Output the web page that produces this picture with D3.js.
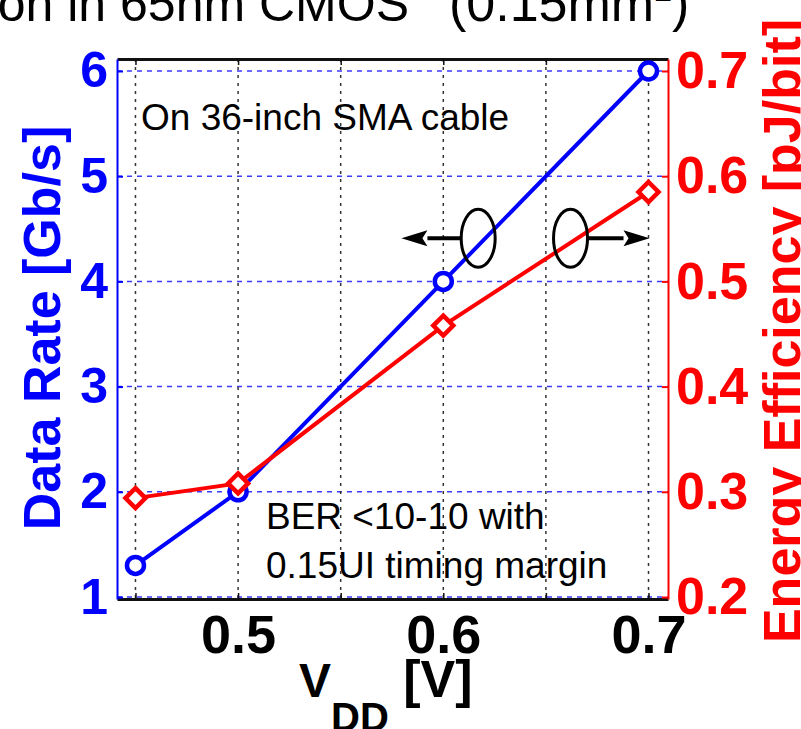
<!DOCTYPE html>
<html>
<head>
<meta charset="utf-8">
<script src="https://cdn.jsdelivr.net/npm/d3@7"></script>
<style>
  body { margin: 0; background: #fff; }
  svg { display: block; font-family: "Liberation Sans", Arial, Helvetica, sans-serif; }
</style>
</head>
<body>
<div id="chart"></div>
<script>
// values
const vdd = [0.45, 0.5, 0.6, 0.7];
const dataRate = [1.3, 2.0, 4.0, 6.0];          // Gb/s, left axis
const energy = [0.294, 0.308, 0.458, 0.585];   // pJ/bit, right axis
const xGrid = [0.45, 0.5, 0.55, 0.6, 0.65, 0.7];
const xLabels = [0.5, 0.6, 0.7];
const leftTicks = [1, 2, 3, 4, 5, 6];
const rightTicks = [0.2, 0.3, 0.4, 0.5, 0.6, 0.7];

const width = 801, height = 729;
const box = {left: 117, right: 668, top: 59, bottom: 599};

const svg = d3.select("#chart")
  .append("svg")
  .attr("width", width)
  .attr("height", height);

const x = d3.scaleLinear().domain([0.441, 0.7095]).range([box.left, box.right]);
const yL = d3.scaleLinear().domain([0.981, 6.114]).range([box.bottom, box.top]);
const yR = d3.scaleLinear().domain([0.1981, 0.7114]).range([box.bottom, box.top]);

// title, cut off at the top of the frame
svg.append("text")
    .attr("x", 409)
    .attr("y", 21)
    .attr("text-anchor", "end")
    .style("font-size", "50px")
    .text("tion in 65nm CMOS");

const title2 = svg.append("text")
    .attr("x", 449)
    .attr("y", 21)
    .style("font-size", "52px");
title2.append("tspan").text("(0.15mm");
title2.append("tspan").attr("dy", -20).style("font-size", "32px").text("2");
title2.append("tspan").attr("dy", 20).text(")");

// grid
svg.append("g")
  .selectAll("line")
  .data(leftTicks)
  .enter().append("line")
    .attr("x1", box.left).attr("x2", box.right)
    .attr("y1", d => yL(d)).attr("y2", d => yL(d))
    .attr("stroke", "#3a3aff")
    .attr("stroke-width", 1.5)
    .attr("stroke-dasharray", "5,5");

svg.append("g")
  .selectAll("line")
  .data(xGrid)
  .enter().append("line")
    .attr("x1", d => x(d)).attr("x2", d => x(d))
    .attr("y1", box.top).attr("y2", box.bottom)
    .attr("stroke", "#333")
    .attr("stroke-width", 1.5)
    .attr("stroke-dasharray", "3,5");

// axes
const fmt = d3.format(".1f");

const topAxis = svg.append("g")
    .attr("transform", "translate(0," + box.top + ")")
    .call(d3.axisTop(x).tickValues(xGrid).tickSize(-6).tickSizeOuter(0).tickFormat(""));

const bottomAxis = svg.append("g")
    .attr("transform", "translate(0," + box.bottom + ")")
    .call(d3.axisBottom(x).tickValues(xGrid).tickSize(-6).tickSizeOuter(0).tickPadding(16)
      .tickFormat(d => xLabels.indexOf(d) >= 0 ? fmt(d) : ""));

[topAxis, bottomAxis].forEach(g => {
  g.select(".domain").attr("stroke", "#111").attr("stroke-width", 3);
  g.selectAll(".tick line").attr("stroke", "#111").attr("stroke-width", 1.5);
});
bottomAxis.attr("font-family", null).attr("font-size", null);
bottomAxis.selectAll("text")
    .attr("fill", "#000")
    .style("font-size", "54px")
    .style("font-weight", "bold");

const leftAxis = svg.append("g")
    .attr("transform", "translate(" + box.left + ",0)")
    .call(d3.axisLeft(yL).tickValues(leftTicks).tickSize(-6).tickSizeOuter(0).tickPadding(9).tickFormat(d3.format("d")));
leftAxis.attr("font-family", null).attr("font-size", null);
leftAxis.select(".domain").attr("stroke", "#0000ff").attr("stroke-width", 2);
leftAxis.selectAll(".tick line").attr("stroke", "#0000ff").attr("stroke-width", 2);
leftAxis.selectAll("text")
    .attr("fill", "#0000ff")
    .style("font-size", "50px")
    .style("font-weight", "bold");

const rightAxis = svg.append("g")
    .attr("transform", "translate(" + box.right + ",0)")
    .call(d3.axisRight(yR).tickValues(rightTicks).tickSize(-6).tickSizeOuter(0).tickPadding(8).tickFormat(fmt));
rightAxis.attr("font-family", null).attr("font-size", null);
rightAxis.select(".domain").attr("stroke", "#ff0000").attr("stroke-width", 2);
rightAxis.selectAll(".tick line").attr("stroke", "#ff0000").attr("stroke-width", 2);
rightAxis.selectAll("text")
    .attr("fill", "#ff0000")
    .style("font-size", "52px")
    .style("font-weight", "bold");

// axis titles
svg.append("text")
    .attr("transform", "translate(60,328) rotate(-90)")
    .attr("text-anchor", "middle")
    .attr("fill", "#0000ff")
    .style("font-size", "52px")
    .style("font-weight", "bold")
    .text("Data Rate [Gb/s]");

svg.append("text")
    .attr("transform", "translate(800,331) rotate(-90)")
    .attr("text-anchor", "middle")
    .attr("fill", "#ff0000")
    .style("font-size", "52px")
    .style("font-weight", "bold")
    .text("Energy Efficiency [pJ/bit]");

const xl = svg.append("text")
    .attr("x", 299)
    .attr("y", 697)
    .style("font-size", "48px")
    .style("font-weight", "bold")
    .style("white-space", "pre");
xl.append("tspan").text("V");
xl.append("tspan").attr("dy", 34).style("font-size", "40px").text("DD");
xl.append("tspan").attr("dy", -34).style("font-size", "52px").text(" [V]");

// series
const lineL = d3.line().x((d, i) => x(vdd[i])).y(d => yL(d));
const lineR = d3.line().x((d, i) => x(vdd[i])).y(d => yR(d));

svg.append("path")
    .datum(dataRate)
    .attr("d", lineL)
    .attr("fill", "none")
    .attr("stroke", "#0000ff")
    .attr("stroke-width", 4);

svg.append("g")
  .selectAll("circle")
  .data(dataRate)
  .enter().append("circle")
    .attr("cx", (d, i) => x(vdd[i]))
    .attr("cy", d => yL(d))
    .attr("r", 8.5)
    .attr("fill", "#fff")
    .attr("stroke", "#0000ff")
    .attr("stroke-width", 4.5);

svg.append("path")
    .datum(energy)
    .attr("d", lineR)
    .attr("fill", "none")
    .attr("stroke", "#ff0000")
    .attr("stroke-width", 4);

svg.append("g")
  .selectAll("path")
  .data(energy)
  .enter().append("path")
    .attr("transform", (d, i) => "translate(" + x(vdd[i]) + "," + yR(d) + ")")
    .attr("d", "M0,-10L10,0L0,10L-10,0Z")
    .attr("fill", "#fff")
    .attr("stroke", "#ff0000")
    .attr("stroke-width", 4.5);

// annotations
svg.append("text")
    .attr("x", 141)
    .attr("y", 130)
    .style("font-size", "37px")
    .text("On 36-inch SMA cable");

svg.append("text")
    .attr("x", 266)
    .attr("y", 529)
    .style("font-size", "37px")
    .text("BER <10-10 with");

svg.append("text")
    .attr("x", 266)
    .attr("y", 578)
    .style("font-size", "37px")
    .text("0.15UI timing margin");

// which-axis markers: ellipse + arrow
const ay = yL(4.41);
const marks = [
  {cx: 0.617, tip: 0.5796},
  {cx: 0.662, tip: 0.7005}
];
marks.forEach(m => {
  const cx = x(m.cx), tip = x(m.tip);
  const dir = tip < cx ? -1 : 1;
  const start = cx + dir * 17;
  const back = tip - dir * 26;
  svg.append("line")
      .attr("x1", start).attr("x2", back)
      .attr("y1", ay).attr("y2", ay)
      .attr("stroke", "#000")
      .attr("stroke-width", 4);
  svg.append("path")
      .attr("d", "M" + tip + "," + ay + "L" + back + "," + (ay - 8) + "L" + (back + dir * 5) + "," + ay + "L" + back + "," + (ay + 8) + "Z")
      .attr("fill", "#000");
  svg.append("ellipse")
      .attr("cx", cx).attr("cy", ay)
      .attr("rx", 17).attr("ry", 29)
      .attr("fill", "none")
      .attr("stroke", "#000")
      .attr("stroke-width", 3);
});
</script>
</body>
</html>
